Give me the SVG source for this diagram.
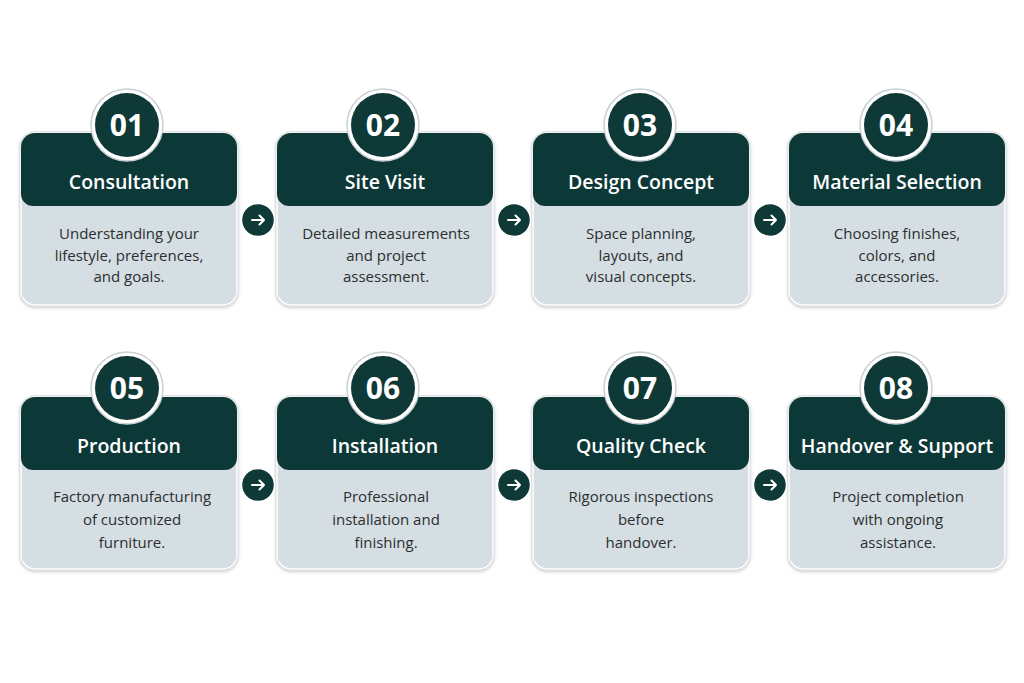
<svg xmlns="http://www.w3.org/2000/svg" width="1024" height="683" viewBox="0 0 1024 683">
<defs>
<filter id="sh" x="-10%" y="-10%" width="120%" height="125%"><feDropShadow dx="0" dy="1.5" stdDeviation="1.5" flood-color="#000" flood-opacity="0.18"/></filter>
<g id="card">
<rect x="0" y="0" width="216" height="172" rx="14" fill="#d5dee2" stroke="#c7cfd3" stroke-width="3"/>
<rect x="0" y="0" width="216" height="172" rx="14" fill="#d5dee2" stroke="#ffffff" stroke-width="1.5"/>
<path d="M0 73 V14 A14 14 0 0 1 14 0 H202 A14 14 0 0 1 216 14 V61 A12 12 0 0 1 204 73 H12 A12 12 0 0 1 0 61 Z" fill="#0f3937"/>
</g>
<g id="badge">
<circle r="36" fill="#ffffff" stroke="#c9d0d3" stroke-width="1.5"/>
<circle r="32" fill="#0f3937"/>
</g>
<g id="arrow">
<circle r="16.5" fill="#0f3937" stroke="#ffffff" stroke-width="1.5"/>
<path d="M-6 0 H6 M1.5 -4.5 L6 0 L1.5 4.5" fill="none" stroke="#ffffff" stroke-width="2" stroke-linecap="round" stroke-linejoin="round"/>
</g>
</defs>
<style>
.num{font-family:"Open Sans","Noto Sans",sans-serif;font-weight:700;font-size:30px;fill:#ffffff;text-anchor:middle}
.ttl{font-family:"Open Sans","Noto Sans",sans-serif;font-weight:600;font-size:19.5px;fill:#ffffff;text-anchor:middle}
.bd{font-family:"Open Sans","Noto Sans",sans-serif;font-size:15px;fill:#2b2f30;text-anchor:middle}
</style>
<rect width="1024" height="683" fill="#ffffff"/>

<g id="step1">
<use href="#card" x="21" y="133" filter="url(#sh)"/>
<use href="#badge" x="127" y="125"/>
<text class="num" x="127" y="136">01</text>
<text class="ttl" x="129" y="189">Consultation</text>
<text class="bd" x="129" y="239">Understanding your</text>
<text class="bd" x="129" y="261">lifestyle, preferences,</text>
<text class="bd" x="129" y="282">and goals.</text>
</g>
<g id="step2">
<use href="#card" x="277" y="133" filter="url(#sh)"/>
<use href="#badge" x="383" y="125"/>
<text class="num" x="383" y="136">02</text>
<text class="ttl" x="385" y="189">Site Visit</text>
<text class="bd" x="386" y="239">Detailed measurements</text>
<text class="bd" x="386" y="261">and project</text>
<text class="bd" x="386" y="282">assessment.</text>
</g>
<g id="step3">
<use href="#card" x="533" y="133" filter="url(#sh)"/>
<use href="#badge" x="640" y="125"/>
<text class="num" x="640" y="136">03</text>
<text class="ttl" x="641" y="189">Design Concept</text>
<text class="bd" x="641" y="239">Space planning,</text>
<text class="bd" x="641" y="261">layouts, and</text>
<text class="bd" x="641" y="282">visual concepts.</text>
</g>
<g id="step4">
<use href="#card" x="789" y="133" filter="url(#sh)"/>
<use href="#badge" x="896" y="125"/>
<text class="num" x="896" y="136">04</text>
<text class="ttl" x="897" y="189">Material Selection</text>
<text class="bd" x="897" y="239">Choosing finishes,</text>
<text class="bd" x="897" y="261">colors, and</text>
<text class="bd" x="897" y="282">accessories.</text>
</g>
<g id="step5">
<use href="#card" x="21" y="397" filter="url(#sh)"/>
<use href="#badge" x="127" y="388"/>
<text class="num" x="127" y="399">05</text>
<text class="ttl" x="129" y="453">Production</text>
<text class="bd" x="132" y="502">Factory manufacturing</text>
<text class="bd" x="132" y="525">of customized</text>
<text class="bd" x="132" y="548">furniture.</text>
</g>
<g id="step6">
<use href="#card" x="277" y="397" filter="url(#sh)"/>
<use href="#badge" x="383" y="388"/>
<text class="num" x="383" y="399">06</text>
<text class="ttl" x="385" y="453">Installation</text>
<text class="bd" x="386" y="502">Professional</text>
<text class="bd" x="386" y="525">installation and</text>
<text class="bd" x="386" y="548">finishing.</text>
</g>
<g id="step7">
<use href="#card" x="533" y="397" filter="url(#sh)"/>
<use href="#badge" x="640" y="388"/>
<text class="num" x="640" y="399">07</text>
<text class="ttl" x="641" y="453">Quality Check</text>
<text class="bd" x="641" y="502">Rigorous inspections</text>
<text class="bd" x="641" y="525">before</text>
<text class="bd" x="641" y="548">handover.</text>
</g>
<g id="step8">
<use href="#card" x="789" y="397" filter="url(#sh)"/>
<use href="#badge" x="896" y="388"/>
<text class="num" x="896" y="399">08</text>
<text class="ttl" x="897" y="453">Handover &amp; Support</text>
<text class="bd" x="898" y="502">Project completion</text>
<text class="bd" x="898" y="525">with ongoing</text>
<text class="bd" x="898" y="548">assistance.</text>
</g>

<g id="connectors">
<use href="#arrow" x="258" y="220"/>
<use href="#arrow" x="514" y="220"/>
<use href="#arrow" x="770" y="220"/>
<use href="#arrow" x="258" y="485"/>
<use href="#arrow" x="514" y="485"/>
<use href="#arrow" x="770" y="485"/>
</g>
</svg>
